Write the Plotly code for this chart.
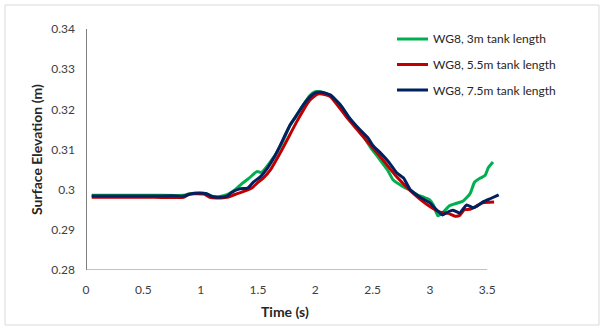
import plotly.graph_objects as go

# ---- data ----
t_green = [0.05, 0.3, 0.6, 0.85, 0.90, 0.95, 1.05, 1.10, 1.15, 1.20, 1.25, 1.30, 1.36, 1.42, 1.49, 1.53,
           1.60, 1.70, 1.78, 1.87, 1.95, 2.00, 2.05, 2.13, 2.22, 2.30, 2.39, 2.48, 2.55, 2.63, 2.68,
           2.77, 2.84, 2.89, 2.94, 3.00, 3.03, 3.07, 3.12, 3.17, 3.22, 3.29, 3.35, 3.39, 3.44, 3.48,
           3.51, 3.55]
y_green = [0.2986, 0.2986, 0.2986, 0.2986, 0.2990, 0.2991, 0.2990, 0.2984, 0.2982, 0.2985, 0.2990,
           0.3000, 0.3015, 0.3028, 0.3045, 0.3043, 0.3066, 0.3110, 0.3160, 0.3200, 0.3234, 0.3244,
           0.3243, 0.3235, 0.3210, 0.3176, 0.3146, 0.3106, 0.3080, 0.3049, 0.3024, 0.3007, 0.2997,
           0.2987, 0.2982, 0.2974, 0.2962, 0.2935, 0.2945, 0.2960, 0.2965, 0.2972, 0.2990, 0.3019,
           0.3029, 0.3035, 0.3055, 0.3069]

t_red = [0.05, 0.3, 0.6, 0.85, 0.90, 0.95, 1.03, 1.08, 1.14, 1.20, 1.25, 1.30, 1.40, 1.45, 1.50,
         1.55, 1.61, 1.72, 1.84, 1.95, 2.02, 2.06, 2.13, 2.20, 2.28, 2.42, 2.57, 2.71, 2.85, 2.98,
         3.09, 3.16, 3.22, 3.26, 3.30, 3.35, 3.40, 3.46, 3.56]
y_red = [0.2981, 0.2981, 0.2981, 0.2981, 0.2989, 0.2990, 0.2989, 0.2981, 0.2979, 0.2980, 0.2982,
         0.2988, 0.2998, 0.3005, 0.3018, 0.3030, 0.3050, 0.3105, 0.3170, 0.3222, 0.3238, 0.3238,
         0.3232, 0.3208, 0.3178, 0.3131, 0.3081, 0.3032, 0.2992, 0.2962, 0.2944, 0.2941, 0.2934,
         0.2936, 0.2950, 0.2951, 0.2958, 0.2967, 0.2969]

t_blue = [0.05, 0.3, 0.6, 0.75, 0.85, 0.91, 0.95, 1.05, 1.10, 1.16, 1.23, 1.27, 1.34, 1.41, 1.46,
          1.52, 1.59, 1.64, 1.69, 1.74, 1.78, 1.83, 1.87, 1.92, 1.96, 2.00, 2.04, 2.08, 2.13, 2.22,
          2.30, 2.39, 2.46, 2.50, 2.57, 2.64, 2.71, 2.77, 2.83, 2.91, 3.00, 3.06, 3.11, 3.16, 3.20,
          3.26, 3.32, 3.38, 3.46, 3.53, 3.60]
y_blue = [0.2984, 0.2984, 0.2984, 0.2985, 0.2984, 0.2989, 0.2991, 0.2990, 0.2983, 0.2981, 0.2984,
          0.2993, 0.3002, 0.3004, 0.3019, 0.3032, 0.3057, 0.3080, 0.3108, 0.3138, 0.3161, 0.3182,
          0.3200, 0.3220, 0.3233, 0.3241, 0.3243, 0.3241, 0.3236, 0.3211, 0.3178, 0.3149, 0.3129,
          0.3111, 0.3091, 0.3069, 0.3042, 0.3029, 0.2999, 0.2982, 0.2967, 0.2949, 0.2937, 0.2945,
          0.2949, 0.2942, 0.2962, 0.2955, 0.2969, 0.2978, 0.2987]

series_names = ["WG8, 3m tank length", "WG8, 5.5m tank length", "WG8, 7.5m tank length"]
series_colors = ["#00B050", "#C00000", "#002060"]

x_ticks = [0, 0.5, 1, 1.5, 2, 2.5, 3, 3.5]
x_tick_text = ["0", "0.5", "1", "1.5", "2", "2.5", "3", "3.5"]
y_ticks = [0.28, 0.29, 0.30, 0.31, 0.32, 0.33, 0.34]
y_tick_text = ["0.28", "0.29", "0.3", "0.31", "0.32", "0.33", "0.34"]

# ---- layout helpers (plot area in pixels) ----
W, H = 604, 330
L, R, T, B = 86, 103, 29, 60
PW, PH = W - L - R, H - T - B


def px(xp):
    return (xp - L) / PW


def py(yp):
    return (H - B - yp) / PH


FONT = "Lato, 'Open Sans', sans-serif"

fig = go.Figure()
for t, y, name, col in zip([t_green, t_red, t_blue], [y_green, y_red, y_blue], series_names, series_colors):
    fig.add_trace(go.Scatter(x=t, y=y, mode="lines", name=name,
                             line=dict(color=col, width=3, shape="spline", smoothing=0.5),
                             showlegend=False))

shapes = [
    # axes
    dict(type="line", xref="x", yref="y", x0=0, x1=0, y0=0.28, y1=0.34,
         line=dict(color="#000000", width=1)),
    dict(type="line", xref="x", yref="y", x0=0, x1=3.5, y0=0.28, y1=0.28,
         line=dict(color="#868686", width=1.2)),
    # outer chart border
    dict(type="rect", xref="paper", yref="paper", x0=px(5), x1=px(599), y0=py(325), y1=py(5),
         line=dict(color="#D9D9D9", width=1)),
]

annotations = [
    dict(text="<b>Time (s)</b>", xref="paper", yref="paper", x=px(285), y=py(311),
         xanchor="center", yanchor="middle",
         showarrow=False, font=dict(size=14, color="#262626", family=FONT)),
    dict(text="<b>Surface Elevation (m)</b>", xref="paper", yref="paper", x=px(36), y=py(150),
         xanchor="center", yanchor="middle",
         showarrow=False, textangle=-90, font=dict(size=14, color="#262626", family=FONT)),
]

legend_rows = [39, 64.5, 90]
for name, col, row in zip(series_names, series_colors, legend_rows):
    shapes.append(dict(type="line", xref="paper", yref="paper", x0=px(397), x1=px(428),
                       y0=py(row), y1=py(row), line=dict(color=col, width=3)))
    annotations.append(dict(text=name, xref="paper", yref="paper", x=px(431), y=py(row),
                            xanchor="left", yanchor="middle", showarrow=False,
                            font=dict(size=12, color="#262626", family=FONT)))

fig.update_layout(
    width=W, height=H,
    margin=dict(l=L, r=R, t=T, b=B),
    paper_bgcolor="white", plot_bgcolor="white",
    font=dict(family=FONT, size=12, color="#404040"),
    shapes=shapes, annotations=annotations,
    xaxis=dict(range=[0, 3.62], tickvals=x_ticks, ticktext=x_tick_text, showgrid=False,
               zeroline=False, showline=False, ticks="", ticklabelstandoff=11,
               tickfont=dict(size=12, color="#404040")),
    yaxis=dict(range=[0.28, 0.34], tickvals=y_ticks, ticktext=y_tick_text, showgrid=False,
               zeroline=False, showline=False, ticks="", ticklabelstandoff=10,
               tickfont=dict(size=12, color="#404040")),
)

fig.write_html("out.html")
